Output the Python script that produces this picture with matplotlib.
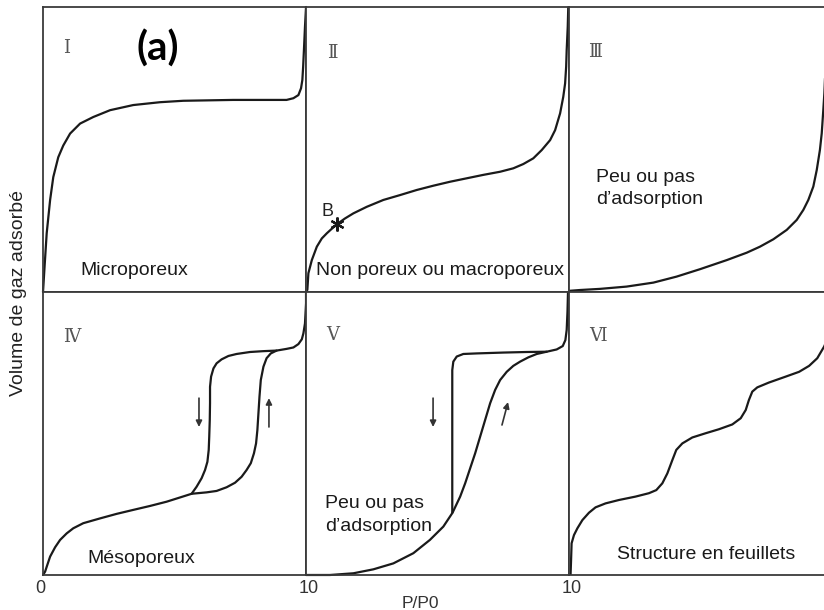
import matplotlib
matplotlib.use("Agg")
import matplotlib.pyplot as plt

plt.rcParams['font.family'] = ['Liberation Sans', 'DejaVu Sans']

# --- Isotherm curves, x = P/P0, y = adsorbed volume (panel fraction) ---
# Type I : microporous
I_X = [0.0, 0.006, 0.014, 0.027, 0.039, 0.058, 0.077, 0.103, 0.141, 0.191, 0.255, 0.343,
       0.445, 0.533, 0.723, 0.926, 0.952, 0.971, 0.981, 0.986, 0.989, 0.992, 0.996, 1.0]
I_Y = [0.0, 0.090, 0.206, 0.323, 0.403, 0.473, 0.514, 0.556, 0.591, 0.614, 0.638, 0.656,
       0.666, 0.671, 0.674, 0.674, 0.680, 0.691, 0.715, 0.744, 0.790, 0.849, 0.931, 1.0]

# Type II : non porous / macroporous (point B at index 7)
II_X = [0.005, 0.009, 0.022, 0.041, 0.060, 0.079, 0.098, 0.119, 0.148, 0.180, 0.231, 0.294,
        0.357, 0.421, 0.484, 0.548, 0.611, 0.674, 0.738, 0.788, 0.826, 0.864, 0.896, 0.928,
        0.947, 0.966, 0.978, 0.985, 0.989, 0.991, 0.995, 0.997]
II_Y = [0.007, 0.066, 0.112, 0.159, 0.188, 0.206, 0.222, 0.239, 0.258, 0.276, 0.299, 0.323,
        0.340, 0.358, 0.373, 0.387, 0.399, 0.411, 0.422, 0.434, 0.449, 0.469, 0.498, 0.533,
        0.568, 0.627, 0.685, 0.732, 0.791, 0.849, 0.931, 0.999]
B_IDX = 7

# Type III : weak interaction
III_X = [0.0, 0.042, 0.118, 0.219, 0.321, 0.409, 0.498, 0.600, 0.676, 0.726, 0.777, 0.828,
         0.866, 0.891, 0.910, 0.929, 0.942, 0.954, 0.961, 0.967, 0.971, 0.978, 0.983]
III_Y = [0.004, 0.007, 0.011, 0.019, 0.033, 0.054, 0.080, 0.112, 0.138, 0.159, 0.185, 0.218,
         0.253, 0.288, 0.323, 0.370, 0.428, 0.498, 0.557, 0.639, 0.697, 0.850, 1.0]

# Type IV : mesoporous, adsorption + desorption branches
IV_ADS_X = [0.0, 0.008, 0.014, 0.027, 0.046, 0.065, 0.090, 0.115, 0.153, 0.217, 0.280, 0.343,
            0.407, 0.470, 0.521, 0.565, 0.622, 0.660, 0.698, 0.730, 0.755, 0.774, 0.790,
            0.802, 0.810, 0.815, 0.819, 0.823, 0.828, 0.838, 0.850, 0.866, 0.888, 0.926,
            0.952, 0.971, 0.984, 0.990, 0.996, 1.0, 1.0]
IV_ADS_Y = [0.0, 0.012, 0.029, 0.065, 0.098, 0.124, 0.147, 0.165, 0.183, 0.200, 0.216, 0.230,
            0.244, 0.259, 0.274, 0.287, 0.292, 0.297, 0.310, 0.326, 0.347, 0.371, 0.395,
            0.430, 0.465, 0.512, 0.571, 0.630, 0.689, 0.736, 0.766, 0.783, 0.793, 0.799,
            0.804, 0.816, 0.833, 0.854, 0.889, 0.960, 1.0]
IV_DES_X = [0.565, 0.584, 0.603, 0.616, 0.625, 0.630, 0.632, 0.634, 0.635, 0.635, 0.639,
            0.648, 0.660, 0.679, 0.705, 0.736, 0.787, 0.838, 0.888]
IV_DES_Y = [0.287, 0.312, 0.342, 0.371, 0.400, 0.442, 0.489, 0.548, 0.607, 0.665, 0.701,
            0.730, 0.748, 0.762, 0.774, 0.781, 0.788, 0.791, 0.793]

# Type V : adsorption + desorption branches
V_ADS_X = [0.0, 0.091, 0.180, 0.256, 0.332, 0.408, 0.471, 0.522, 0.557, 0.586, 0.605, 0.624,
           0.643, 0.662, 0.681, 0.700, 0.719, 0.738, 0.763, 0.788, 0.814, 0.845, 0.877,
           0.915, 0.953, 0.976, 0.986, 0.991, 0.994, 0.996]
V_ADS_Y = [0.0, 0.0, 0.006, 0.020, 0.041, 0.077, 0.124, 0.171, 0.220, 0.277, 0.324, 0.377,
           0.430, 0.489, 0.548, 0.607, 0.654, 0.689, 0.718, 0.739, 0.754, 0.769, 0.781,
           0.789, 0.797, 0.809, 0.830, 0.866, 0.930, 1.0]
V_DES_X = [0.556, 0.556, 0.560, 0.573, 0.598, 0.649, 0.750, 0.839, 0.915]
V_DES_Y = [0.220, 0.724, 0.754, 0.772, 0.781, 0.783, 0.786, 0.788, 0.789]

# Type VI : stepwise (layered structure)
VI_X = [0.006, 0.008, 0.010, 0.019, 0.032, 0.051, 0.076, 0.101, 0.139, 0.190, 0.253, 0.304,
        0.332, 0.355, 0.374, 0.393, 0.408, 0.431, 0.469, 0.520, 0.570, 0.621, 0.653, 0.672,
        0.684, 0.697, 0.716, 0.760, 0.824, 0.875, 0.913, 0.944, 0.970, 1.0]
VI_Y = [0.0, 0.053, 0.112, 0.141, 0.165, 0.194, 0.220, 0.239, 0.253, 0.265, 0.277, 0.289,
        0.300, 0.324, 0.359, 0.406, 0.442, 0.465, 0.486, 0.501, 0.515, 0.532, 0.554, 0.583,
        0.618, 0.648, 0.663, 0.680, 0.701, 0.718, 0.739, 0.766, 0.807, 0.870]

# Hysteresis direction arrows: (x_start, y_start, x_end, y_end)
IV_ARROWS = [(0.593, 0.625, 0.593, 0.523), (0.859, 0.523, 0.859, 0.625)]
V_ARROWS = [(0.483, 0.625, 0.483, 0.523), (0.745, 0.530, 0.768, 0.611)]

NUMERALS = ["Ⅰ", "Ⅱ", "Ⅲ", "Ⅳ", "Ⅴ", "Ⅵ"]

LINE = '#1a1a1a'
FRAME = '#3a3a3a'

fig = plt.figure(figsize=(8.24, 6.10), dpi=100)

lefts = [0.0522, 0.3714, 0.6905]
width = 0.3192
top_row = (0.5213, 0.4672)
bot_row = (0.0574, 0.4639)

axes = []
for row in (top_row, bot_row):
    for left in lefts:
        ax = fig.add_axes([left, row[0], width, row[1]])
        ax.set_xlim(0, 1)
        ax.set_ylim(0, 1)
        ax.set_xticks([])
        ax.set_yticks([])
        for sp in ax.spines.values():
            sp.set_color(FRAME)
            sp.set_linewidth(1.3)
        axes.append(ax)

ax1, ax2, ax3, ax4, ax5, ax6 = axes

kw = dict(color=LINE, lw=1.6, solid_capstyle='round', solid_joinstyle='round', clip_on=False)
ax1.plot(I_X, I_Y, **kw)
ax2.plot(II_X, II_Y, **kw)
ax4.plot(IV_ADS_X, IV_ADS_Y, **kw)
ax4.plot(IV_DES_X, IV_DES_Y, **kw)
ax5.plot(V_ADS_X, V_ADS_Y, **kw)
ax5.plot(V_DES_X, V_DES_Y, **kw)
kw['clip_on'] = True
ax3.plot(III_X, III_Y, **kw)
ax6.plot(VI_X, VI_Y, **kw)

# point B on the type II curve
bx, by = II_X[B_IDX], II_Y[B_IDX]
ax2.plot([bx], [by], marker=(6, 2, 0), ms=10, mew=1.6, color=LINE, ls='none')
ax2.annotate("B", (bx, by), xytext=(-3, 3), textcoords='offset points',
             ha='right', va='bottom', fontsize=13, color='#222')

for ax, arrows in ((ax4, IV_ARROWS), (ax5, V_ARROWS)):
    for x0, y0, x1, y1 in arrows:
        ax.annotate("", xy=(x1, y1), xytext=(x0, y0),
                    arrowprops=dict(arrowstyle='-|>', color='#333', lw=1.2,
                                    mutation_scale=9, shrinkA=0, shrinkB=0))

# roman numerals
num_pos = [(0.09, 0.857), (0.099, 0.839), (0.099, 0.842),
           (0.110, 0.841), (0.103, 0.848), (0.110, 0.845)]
for ax, num, (x, y) in zip(axes, NUMERALS, num_pos):
    ax.text(x, y, num, transform=ax.transAxes, fontsize=13, color='#555',
            family=['DejaVu Serif', 'DejaVu Sans'], ha='center', va='center')

ax1.text(0.437, 0.853, "(a)", transform=ax1.transAxes, fontsize=29,
         fontweight='bold', family=['Lato', 'DejaVu Sans'], ha='center', va='center')

txt = dict(fontsize=14, color='#1a1a1a', ha='left', va='center', linespacing=1.4)
ax1.text(0.141, 0.077, "Microporeux", transform=ax1.transAxes, **txt)
ax2.text(0.038, 0.077, "Non poreux ou macroporeux", transform=ax2.transAxes, **txt)
ax3.text(0.103, 0.362, "Peu ou pas\nd’adsorption", transform=ax3.transAxes, **txt)
ax4.text(0.167, 0.060, "Mésoporeux", transform=ax4.transAxes, **txt)
ax5.text(0.072, 0.212, "Peu ou pas\nd’adsorption", transform=ax5.transAxes, **txt)
ax6.text(0.183, 0.071, "Structure en feuillets", transform=ax6.transAxes, **txt)

# P/P0 scale marks under the bottom row
tick = dict(fontsize=13, color='#333', ha='center', va='center', transform=ax4.transAxes)
ax4.text(-0.011, -0.048, "0", **tick)
ax4.text(1.011, -0.048, "10", **tick)
tick['transform'] = ax5.transAxes
ax5.text(1.011, -0.048, "10", **tick)
ax5.text(0.433, -0.099, "P/P0", transform=ax5.transAxes, fontsize=12.5,
         color='#333', ha='center', va='center')

fig.text(0.022, 0.52, "Volume de gaz adsorbé", rotation=90, fontsize=14,
         color='#222', ha='center', va='center')

fig.savefig("out.png", dpi=100)
